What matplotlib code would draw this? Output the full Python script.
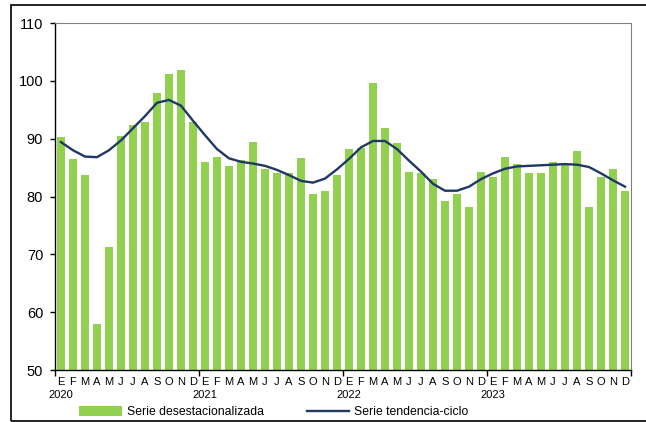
import matplotlib.pyplot as plt
from matplotlib.patches import Rectangle
from matplotlib.transforms import blended_transform_factory

plt.rcParams['font.family'] = ['Liberation Sans', 'DejaVu Sans']

months = ['E', 'F', 'M', 'A', 'M', 'J', 'J', 'A', 'S', 'O', 'N', 'D']
years = ['2020', '2021', '2022', '2023']

# serie desestacionalizada (ene 2020 - dic 2023)
desest = [90.3, 86.5, 83.7, 58.0, 71.3, 90.5, 92.3, 92.9, 97.9, 101.2, 101.9, 92.9,
          86.0, 86.9, 85.3, 86.3, 89.5, 84.7, 84.1, 84.1, 86.7, 80.4, 81.0, 83.7,
          88.2, 88.4, 99.7, 91.8, 89.2, 84.3, 84.0, 83.1, 79.3, 80.4, 78.2, 84.2,
          83.4, 86.9, 85.6, 84.1, 84.1, 86.0, 85.4, 87.9, 78.2, 83.4, 84.8, 80.9]

# serie tendencia-ciclo
tendencia = [89.4, 88.0, 86.9, 86.8, 88.0, 89.7, 91.8, 93.9, 96.2, 96.7, 95.7, 93.1,
             90.6, 88.2, 86.6, 86.0, 85.7, 85.3, 84.6, 83.7, 82.7, 82.4, 83.1, 84.7,
             86.5, 88.5, 89.6, 89.6, 88.2, 86.2, 84.3, 82.2, 81.0, 81.0, 81.7, 83.0,
             84.0, 84.8, 85.2, 85.3, 85.4, 85.5, 85.6, 85.5, 85.1, 84.0, 82.8, 81.7]

x = list(range(len(desest)))

fig = plt.figure(figsize=(6.46, 4.22), dpi=100)
ax = fig.add_axes([55 / 646, 52 / 422, 576 / 646, 347 / 422])

bars = ax.bar(x, desest, width=0.6, color='#92D050', label='Serie desestacionalizada', zorder=2)
line, = ax.plot(x, tendencia, color='#1F3864', linewidth=1.7, label='Serie tendencia-ciclo', zorder=3)

ax.set_xlim(-0.5, len(desest) - 0.5)
ax.set_ylim(50, 110)
ax.set_yticks(range(50, 111, 10))
ax.tick_params(axis='y', labelsize=10.5, length=3.5, width=1, direction='out', pad=5)

# year separators as major ticks, month letters as minor tick labels
ax.set_xticks([i * 12 - 0.5 for i in range(len(years) + 1)])
ax.set_xticklabels([])
ax.set_xticks(x, minor=True)
ax.set_xticklabels(months * len(years), minor=True, fontsize=8)
ax.tick_params(axis='x', which='major', length=4, width=1, direction='out')
ax.tick_params(axis='x', which='minor', length=0, pad=5)

trans = blended_transform_factory(ax.transData, ax.transAxes)
for i, yr in enumerate(years):
    ax.text(i * 12, -0.058, yr, transform=trans, ha='center', va='top', fontsize=8)

for side in ['top', 'right']:
    ax.spines[side].set_color('#808080')
    ax.spines[side].set_linewidth(0.8)
for side in ['left', 'bottom']:
    ax.spines[side].set_color('black')
    ax.spines[side].set_linewidth(1.0)

fig.legend(handles=[bars, line], loc='center', bbox_to_anchor=(0.424, 10 / 422), ncol=2,
           frameon=False, fontsize=8.8, handlelength=3.5, handleheight=0.9, columnspacing=3.5,
           handletextpad=0.4, borderaxespad=0)

# outer frame
fig.patches.append(Rectangle((11 / 646, 1 / 422), 0.99, 416 / 422, transform=fig.transFigure,
                             fill=False, edgecolor='black', linewidth=1.2, clip_on=False))

fig.savefig('out.png', dpi=100)
